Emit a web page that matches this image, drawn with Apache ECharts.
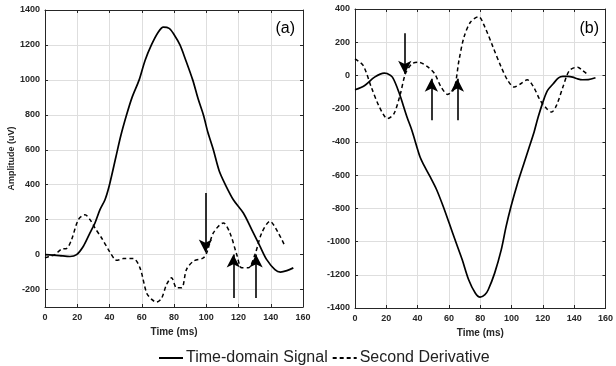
<!DOCTYPE html>
<html>
<head>
<meta charset="utf-8">
<script src="https://cdn.jsdelivr.net/npm/echarts@6/dist/echarts.min.js"></script>
<style>html,body{margin:0;padding:0;background:#fff}#c{width:616px;height:366px}</style>
</head>
<body>
<div id="c"></div>
<script>
// ---- Panel (a) ----
const aSigT = [0,5,9,15.5,19.6,23.8,27.9,31,34.1,37.2,40,44,47,50.6,54,58.4,62,66,70,73.4,77,80,83.7,87,91.6,95,98.2,101,104.4,108,111.6,116.8,123,128.2,133.3,137.5,142.6,146,150,154];
const aSigV = [0,-3,-6,-11,0,48,124,181,257,314,400,560,680,800,900,1000,1110,1200,1270,1302,1295,1260,1200,1120,1000,890,800,700,600,480,405,314,238,143,48,-29,-86,-100,-92,-76];
const aDerT = [0,3,6.2,10.3,13.4,16.5,20.7,24.8,27.9,31,35.1,39.3,43.4,45,48.6,54.8,58.9,63,66,69.2,72.3,75.4,78.5,81.6,84.8,87.7,92,98.2,100.3,104.4,110.6,114.7,118.9,122,126,130.2,134.4,139.5,144.7,148.8];
const aDerV = [-19,-10,0,32,35,86,200,228,200,152,95,29,-29,-32,-23,-23,-76,-219,-255,-272,-250,-171,-133,-190,-190,-86,-38,-19,10,124,181,124,0,-76,-76,0,124,190,124,48];
// ---- Panel (b) ----
const bSigT = [0,6.2,12.5,18.7,20.5,23.9,28,33.2,36.3,41.5,44,47.7,52,56,60.2,64.3,68.5,72.6,76.8,79.9,83,85.1,89.2,93.4,96.5,99.6,103.8,107.9,111,114.1,117,120.4,123,126.6,130,132.8,136,139,142,145.3,149,153.6];
const bSigV = [-86,-60,-10,14,12,-10,-100,-250,-330,-490,-540,-605,-685,-780,-890,-1000,-1110,-1230,-1310,-1335,-1320,-1290,-1190,-1050,-910,-790,-650,-530,-440,-350,-250,-150,-90,-50,-15,-6,-6,-10,-20,-26,-25,-14];
const bDerT = [0,5.2,10.4,15.6,20.8,24.9,29,32.2,36.3,40.5,46.7,50.9,55,59.2,63.3,66.4,69.6,73.7,78.9,83,88.2,93.4,97.6,101.7,105.9,110,114.1,118.3,122.5,125.6,128.7,132.8,137,142.2,145.3,149.4];
const bDerV = [100,60,-70,-190,-260,-230,-110,10,70,80,50,10,-70,-114,-80,90,230,320,354,290,170,50,-30,-70,-50,-26,-70,-150,-200,-220,-180,-70,30,50,30,0];
// arrows: [x, yStart, yEnd]
const aArrows = [[99.5,352,12],[116.8,-248,0],[130.9,-248,0]];
const bArrows = [[31.8,254,10],[48.8,-270,-20],[65.4,-270,-20]];
const aYTicks = [-200,0,200,400,600,800,1000,1200,1400];
const seriesNames = ['Time-domain Signal','Second Derivative'];
const panelLabels = ['(a)','(b)'];

const zip = (t,v) => t.map((x,i)=>[x,v[i]]);
const FONT = 'Liberation Sans, Arial, sans-serif';
const AX = '#262626';
const GRID = '#dedede';
const plain = v => String(v);

function xAx(grid, pos, showName){
  return {
    type:'value', gridIndex:grid, position:pos, min:0, max:160, interval:20,
    name: showName ? 'Time (ms)' : '', nameLocation:'middle', nameGap:18,
    nameTextStyle:{fontFamily:FONT,fontWeight:'bold',fontSize:10,color:AX},
    axisLine:{show:true,onZero:false,lineStyle:{color:AX,width:1}},
    axisTick:{show:true,inside:true,length:3,lineStyle:{color:AX}},
    axisLabel:{show:pos==='bottom',margin:6,fontFamily:FONT,fontWeight:'bold',fontSize:9,color:AX,formatter:plain},
    splitLine:{show:pos==='bottom',lineStyle:{color:GRID,width:1}}
  };
}
function yAx(grid, pos, min, max, name, custom){
  const o = {
    type:'value', gridIndex:grid, position:pos, min:min, max:max,
    name:name, nameLocation:'middle', nameGap:28,
    nameTextStyle:{fontFamily:FONT,fontWeight:'bold',fontSize:9,color:AX},
    axisLine:{show:true,onZero:false,lineStyle:{color:AX,width:1}},
    axisTick:{show:true,inside:true,length:3,lineStyle:{color:AX}},
    axisLabel:{show:pos==='left',margin:5,fontFamily:FONT,fontWeight:'bold',fontSize:9,color:AX,formatter:plain},
    splitLine:{show:pos==='left',lineStyle:{color:GRID,width:1}}
  };
  if (custom){ o.axisTick.customValues = custom; o.axisLabel.customValues = custom; }
  else { o.interval = 200; }
  return o;
}
function arrowLine(arr){
  return {
    silent:true, symbol:['none','arrow'], symbolSize:[10,13],
    label:{show:false}, lineStyle:{type:'solid',color:'#000',width:1.6},
    emphasis:{disabled:true},
    data: arr.map(a=>[{coord:[a[0],a[1]]},{coord:[a[0],a[2]]}])
  };
}
function sig(name, xi, yi, data){
  return {name:name,type:'line',xAxisIndex:xi,yAxisIndex:yi,data:data,showSymbol:false,symbol:'none',
    smooth:0.3,lineStyle:{color:'#000',width:1.7,type:'solid'},itemStyle:{color:'#000'},silent:true,z:3};
}
function der(name, xi, yi, data, arrows){
  return {name:name,type:'line',xAxisIndex:xi,yAxisIndex:yi,data:data,showSymbol:false,symbol:'none',
    smooth:0.3,lineStyle:{color:'#000',width:1.5,type:[4,3]},itemStyle:{color:'#000'},silent:true,z:2,
    markLine:arrowLine(arrows)};
}

const chart = echarts.init(document.getElementById('c'), null, {renderer:'canvas'});
chart.setOption({
  animation:false,
  backgroundColor:'#fff',
  grid:[
    {left:45,right:313,top:10,bottom:59,containLabel:false},
    {left:355,right:4,top:9,bottom:58,containLabel:false}
  ],
  title:[
    {text:panelLabels[0],right:316,top:16,textStyle:{fontFamily:FONT,fontWeight:'normal',fontSize:16,color:'#000'}},
    {text:panelLabels[1],right:12,top:16,textStyle:{fontFamily:FONT,fontWeight:'normal',fontSize:16,color:'#000'}}
  ],
  legend:{
    data:seriesNames, top:345, left:153, itemWidth:24, itemHeight:12, itemGap:4,
    itemStyle:{opacity:0},
    textStyle:{fontFamily:FONT,fontSize:16,color:'#222',padding:[0,0,0,-2]},
    selectedMode:false
  },
  xAxis:[xAx(0,'bottom',true), xAx(0,'top',false), xAx(1,'bottom',true), xAx(1,'top',false)],
  yAxis:[
    yAx(0,'left',-300,1400,'Amplitude (uV)',aYTicks),
    yAx(0,'right',-300,1400,'',aYTicks),
    yAx(1,'left',-1400,400,'',null),
    yAx(1,'right',-1400,400,'',null)
  ],
  series:[
    sig(seriesNames[0],0,0,zip(aSigT,aSigV)),
    der(seriesNames[1],0,0,zip(aDerT,aDerV),aArrows),
    sig(seriesNames[0],2,2,zip(bSigT,bSigV)),
    der(seriesNames[1],2,2,zip(bDerT,bDerV),bArrows)
  ]
});
</script>
</body>
</html>
